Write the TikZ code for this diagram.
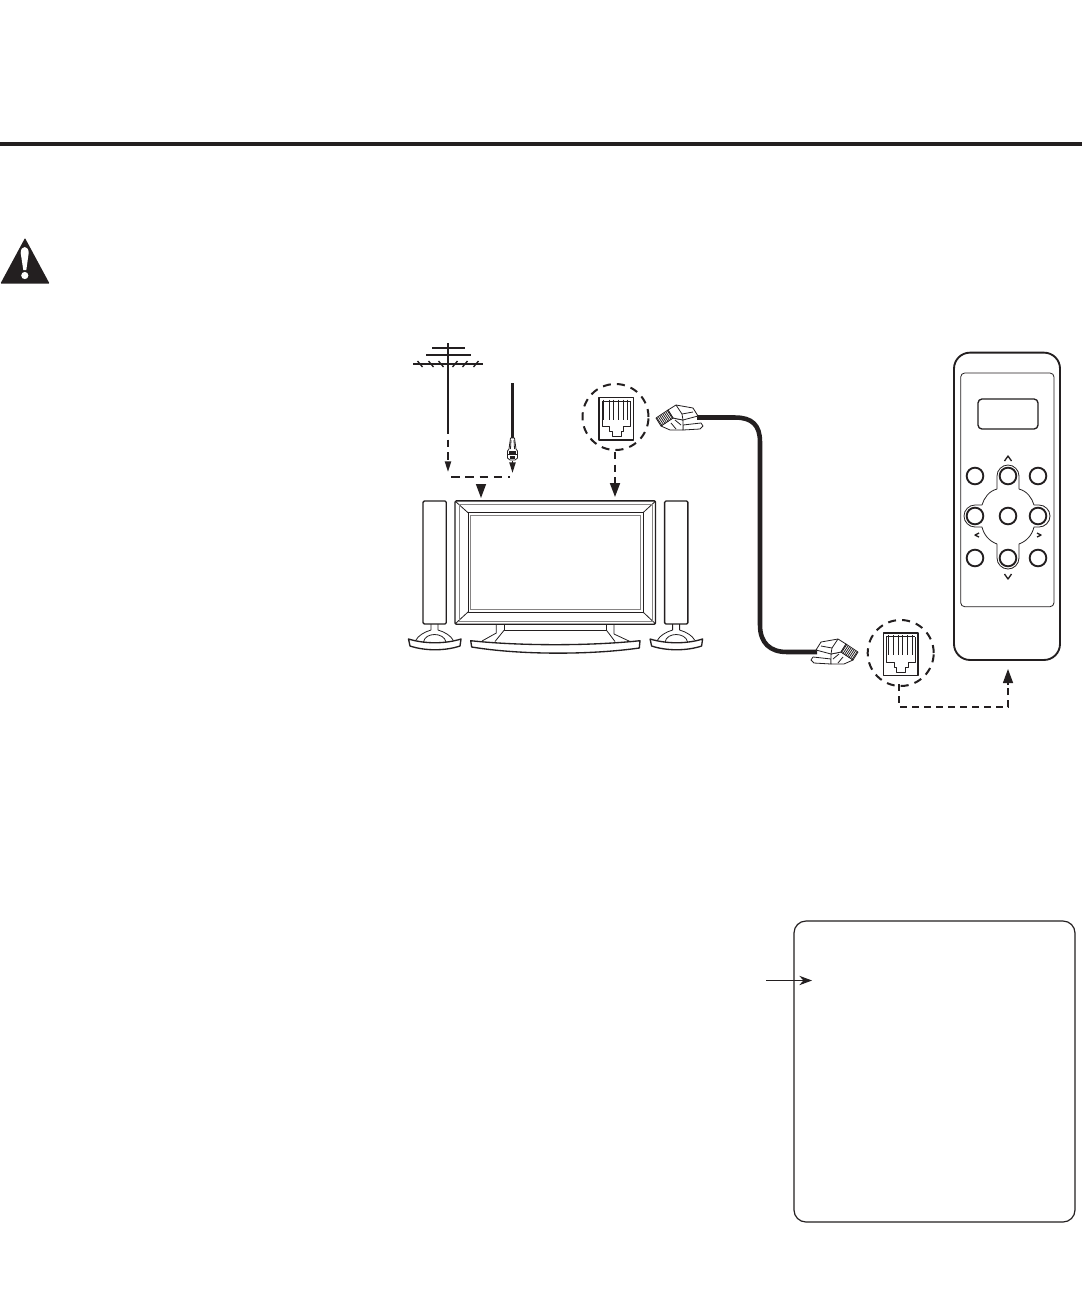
\documentclass[tikz,border=0pt]{standalone}
\usetikzlibrary{arrows.meta}
\definecolor{ink}{HTML}{231F20}
\tikzset{
  px/.style={x=0.75pt,y=-0.75pt},
  ln/.style={draw=ink,line width=1pt,line join=round},
  thin ln/.style={draw=ink,line width=0.6pt,line join=round},
  dashln/.style={draw=ink,line width=1.4pt,dash pattern=on 5.5pt off 4pt},
  jackring/.style={circle,draw=ink,line width=1.5pt,dash pattern=on 6pt off 4.6pt,minimum size=49.5pt,inner sep=0pt},
  headbig/.style={-{Triangle[length=10.5pt,width=7.5pt,color=ink]}},
  headsmall/.style={-{Triangle[length=8pt,width=4.6pt,color=ink]}},
  btn/.style={circle,draw=ink,line width=1.4pt,minimum size=12.5pt,inner sep=0pt,fill=white},
}
% RJ jack icon
\newcommand{\jackicon}[2]{%
 \begin{scope}[shift={(#1,#2)}]
  \draw[ln] (-17.3,-21) rectangle (17.3,21.5);
  \draw[thin ln] (-14,-17.5) -- (-14,8.3) -- (-6.7,8.3) -- (-6.7,13.3) -- (-4.3,13.3) -- (-4.3,18.3) -- (4.7,18.3) -- (4.7,13.3) -- (7.3,13.3) -- (7.3,8.3) -- (14.3,8.3) -- (14.3,-17.5);
  \draw[thin ln] (-14.3,-17.3) -- (14.6,-17.3);
  \foreach \q in {-12.7,-7.3,-2.7,2,6.7,11.3}{\draw[thin ln] (\q,-19) -- (\q,1);}
 \end{scope}}
% RJ plug icon
\newcommand{\plugicon}[3]{%
 \begin{scope}[shift={(#1,#2)},xscale=#3]
  \filldraw[thin ln,fill=white] (5,8) -- (23,6) -- (25,9) -- (22,12) -- (5,13) -- cycle;
  \filldraw[thin ln,fill=white] (-17,9) -- (-5,1) -- (5,3) -- (5,13) -- (-8,13) -- cycle;
  \filldraw[thin ln,fill=white] (-10,-7) -- (-2,-12) -- (15,-9) -- (20,-1) -- (5,3) -- (-5,1) -- cycle;
  \filldraw[thin ln,fill=white] (-22,1) -- (-10,-7) -- (-5,1) -- (-17,9) -- cycle;
  \draw[thin ln] (-2,-12) -- (4,-3) -- (5,3);
  \draw[thin ln] (4,-3) -- (15,-5);
  \draw[thin ln] (-7,6) -- (-2,12);
  \draw[thin ln] (-3,3) -- (3,8);
  \foreach \q in {0,1,...,7}{\draw[thin ln] (-21+\q*1.5,1-\q*1) -- (-16+\q*1.5,8.5-\q*1);}
 \end{scope}}
% speaker with foot
\newcommand{\speakerunit}[1]{%
 \begin{scope}[shift={(#1,0)}]
  \draw[ln,rounded corners=1pt] (423,501) rectangle (446.3,624);
  \draw[thin ln] (431,624) -- (431,630) .. controls (424,632) and (418,636) .. (416,640);
  \draw[thin ln] (438,624) -- (438,630) .. controls (445,632) and (451,636) .. (453,640);
  \draw[thin ln] (423.5,642) .. controls (425,632) and (444,632) .. (446,642);
  \draw[ln] (408.5,639) .. controls (425,644) and (445,644) .. (461,639) -- (460,646) .. controls (445,651) and (425,651) .. (410,646) -- cycle;
  \draw[thin ln] (423,642.5) -- (446,642.5);
 \end{scope}}
\begin{document}
\begin{tikzpicture}[px]
\useasboundingbox (0,0) rectangle (1082,1290);
\fill[white] (0,0) rectangle (1082,1290);

% header rule
\coordinate (ruleL) at (0,143.5);
\coordinate (ruleR) at (1082,143.5);
\draw[ink,line width=3pt] (ruleL) -- (ruleR);

% warning sign
\fill[ink,rounded corners=0.5pt] (0.5,283.5) -- (25,238) -- (49.5,283.5) -- cycle;
\fill[white] (20.7,253) .. controls (20.7,245) and (28.7,245) .. (28.7,253) -- (26.3,270) -- (23.3,270) -- cycle;
\fill[white] (24.8,275.5) circle[radius=3.6];

% antenna
\coordinate (mastTop) at (448,343);
\coordinate (mastEnd) at (448,427);
\coordinate (mastTip) at (448,472);
\draw[ink,line width=1.5pt] (mastTop) -- (mastEnd);
\draw[ink,line width=1.1pt] (432,348) -- (465,348);
\draw[ink,line width=1.1pt] (426,355) -- (471,355);
\draw[ink,line width=1.1pt] (413,364) -- (483,364);
\foreach \q in {420,431,441}{\draw[ink,line width=1pt] (\q-2.5,361) -- (\q+2.5,367);}
\foreach \q in {455,465,476}{\draw[ink,line width=1pt] (\q+2.5,361) -- (\q-2.5,367);}
\draw[dashln,headsmall] (mastEnd) -- (mastTip);

% coax cable
\coordinate (coaxTop) at (512.5,383);
\coordinate (coaxEnd) at (512.5,438);
\draw[ink,line width=2.8pt] (coaxTop) -- (coaxEnd);
\filldraw[thin ln,fill=white] (510.5,438) -- (514.5,438) -- (516,449) -- (517.5,451) -- (517.5,458) -- (515,460) -- (510,460) -- (507.5,458) -- (507.5,451) -- (509,449) -- cycle;
\draw[thin ln] (507.5,454) -- (517.5,454);
\draw[thin ln] (511,440) -- (510.5,449);
\draw[thin ln] (514,440) -- (514.5,449);
\fill[ink] (509,451) rectangle (516,454);
\fill[ink] (510,456) rectangle (515,459);
\coordinate (coaxGap) at (512.5,461);
\coordinate (coaxTip) at (512.5,473);
\draw[ink,line width=1.2pt,headsmall] (coaxGap) -- (coaxTip);

% join of the two aerial feeds
\coordinate (joinL) at (451,477);
\coordinate (joinR) at (510,477);
\draw[draw=ink,line width=1.2pt,dash pattern=on 6.5pt off 4.2pt] (joinL) -- (joinR);
\coordinate (feedTop) at (481,485);
\coordinate (feedTip) at (481,498);
\draw[draw=ink,line width=1pt,headbig] (feedTop) -- (feedTip);

% TV
\node (tv) [draw=ink,line width=1pt,rounded corners=1pt,minimum width=150.4pt,minimum height=92.5pt,inner sep=0pt] at (555.3,562.5) {};
\draw[thin ln] (468,512.7) rectangle (643,612);
\draw[draw=ink!55,line width=0.6pt] (470.5,515) rectangle (640,609);
\draw[thin ln] (455,501) -- (468,512.7);
\draw[thin ln] (655.7,501) -- (643,512.7);
\draw[thin ln] (455,624) -- (468,612);
\draw[thin ln] (655.7,624) -- (643,612);
\draw[draw=ink!55,line width=0.6pt] (459,504) rectangle (652,621);
% TV stand
\draw[thin ln] (496.3,624) -- (496.3,633) -- (482,641);
\draw[thin ln] (504.3,624) -- (504.3,630) -- (606.3,630) -- (606.3,624);
\draw[thin ln] (504.3,630) -- (495,641.5);
\draw[thin ln] (606.3,630) -- (615,641.5);
\draw[thin ln] (614,624) -- (614,634) -- (630,641.5);
\draw[ln] (470.7,640.7) .. controls (520,646) and (590,646) .. (640,640.7) -- (639.3,648) .. controls (590,655) and (520,655) .. (471.7,647) -- cycle;

% speakers
\speakerunit{0}
\speakerunit{241.6}

% TV jack
\node (jackA) [jackring] at (615.5,417) {};
\jackicon{616.3}{418.5}
\coordinate (jackAdown) at (615,452);
\coordinate (jackAtip) at (615,497);
\draw[dashln,headbig] (jackAdown) -- (jackAtip);

% plug and cable
\coordinate (plugA) at (697,417.5);
\coordinate (plugB) at (817,652);
\draw[ink,line width=3.4pt] (plugA) -- (735,417.5) .. controls (752,417.5) and (760,425) .. (760,442) -- (760,625) .. controls (760,643) and (770,652) .. (787,652) -- (plugB);
\plugicon{678}{417}{1}
\plugicon{836}{651}{-1}

% remote jack
\node (jackB) [jackring] at (900.7,653) {};
\jackicon{900.7}{654}
\coordinate (jackBdown) at (899,684);
\coordinate (corner1) at (899,707);
\coordinate (corner2) at (1008,707);
\coordinate (remoteTip) at (1008,669);
\draw[draw=ink,line width=1.4pt,dash pattern=on 5.5pt off 3.5pt] (jackBdown) -- (corner1) -- (corner2) -- (1008,687);
\draw[draw=ink,line width=1pt,headbig] (1008,685) -- (remoteTip);

% remote control
\node (remote) [draw=ink,line width=1.4pt,rounded corners=12pt,minimum width=79.5pt,minimum height=230.5pt,inner sep=0pt] at (1007,506.3) {};
\draw[thin ln,rounded corners=3pt] (960.7,373) rectangle (1054,606.7);
\draw[ln,rounded corners=3pt] (978,399) rectangle (1038,429);
\draw[thin ln] (997,476) .. controls (997,470) and (1002,465) .. (1008,465) .. controls (1014,465) and (1019,470) .. (1019,476)
 -- (1019,489) .. controls (1027,491) and (1032,498) .. (1034,505) -- (1039,505)
 .. controls (1045,505) and (1050,510) .. (1050,516) .. controls (1050,522) and (1045,527) .. (1039,527) -- (1034,527)
 .. controls (1032,535) and (1027,541) .. (1019,544) -- (1019,558)
 .. controls (1019,564) and (1014,569) .. (1008,569) .. controls (1002,569) and (997,564) .. (997,558)
 -- (997,544) .. controls (989,541) and (984,535) .. (982,527) -- (975,527)
 .. controls (969,527) and (964,522) .. (964,516) .. controls (964,510) and (969,505) .. (975,505) -- (982,505)
 .. controls (984,498) and (989,491) .. (997,489) -- cycle;
\node (b1) [btn] at (975,476) {};
\node (b2) [btn] at (1008,476) {};
\node (b3) [btn] at (1038,476) {};
\node (b4) [btn] at (975,516) {};
\node (b5) [btn] at (1008,516) {};
\node (b6) [btn] at (1038,516) {};
\node (b7) [btn] at (975,558) {};
\node (b8) [btn] at (1008,558) {};
\node (b9) [btn] at (1038,558) {};
\draw[ln] (1004.5,461) -- (1008,456) -- (1011.5,461);
\draw[ln] (1004.5,574) -- (1008,579) -- (1011.5,574);
\draw[ln] (979,533) -- (975,535) -- (979,537);
\draw[ln] (1037,533) -- (1041,535) -- (1037,537);

% menu box and pointer
\node (menubox) [draw=ink,line width=0.9pt,rounded corners=9pt,minimum width=210.75pt,minimum height=225.75pt,inner sep=0pt] at (934.5,1071.5) {};
\coordinate (ptrStart) at (766,980.5);
\coordinate (ptrTip) at (812,980.5);
\draw[draw=ink,line width=0.7pt,-{Stealth[length=9.5pt,width=7pt,color=ink]}] (ptrStart) -- (ptrTip);
\end{tikzpicture}
\end{document}
